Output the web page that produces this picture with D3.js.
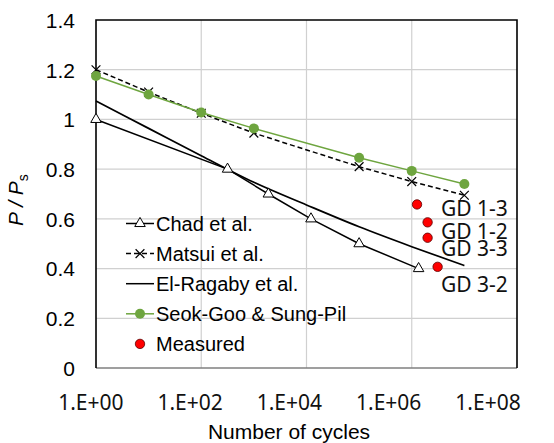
<!DOCTYPE html>
<html>
<head>
<meta charset="utf-8">
<script src="https://cdn.jsdelivr.net/npm/d3@7"></script>
<style>
  html, body { margin: 0; padding: 0; background: #fff; }
  svg { display: block; }
</style>
</head>
<body>
<svg id="chart" width="554" height="443"></svg>
<script>
// ---------------- data ----------------
const xTicks = [1, 1e2, 1e4, 1e6, 1e8];
const xTickLabels = ["1.E+00", "1.E+02", "1.E+04", "1.E+06", "1.E+08"];
const yTicks = [0, 0.2, 0.4, 0.6, 0.8, 1, 1.2, 1.4];
const yTickLabels = ["0", "0.2", "0.4", "0.6", "0.8", "1", "1.2", "1.4"];

const chadN = [1, 316, 1884, 12160, 100000, 1350000];
const chadP = [1.0, 0.8, 0.7, 0.6, 0.5, 0.4];

const matsuiN = [1, 10, 100, 1000, 1e5, 1e6, 1e7];
const matsuiP = [1.2, 1.11, 1.025, 0.945, 0.81, 0.75, 0.695];

const elRagabyN = [1, 10, 100, 1000, 1e4, 1e5, 1e6, 1e7];
const elRagabyP = [1.074, 0.964, 0.854, 0.747, 0.656, 0.568, 0.488, 0.412];

const seokN = [1, 10, 100, 1000, 1e5, 1e6, 1e7];
const seokP = [1.175, 1.10, 1.028, 0.964, 0.846, 0.793, 0.74];

const measuredN = [1.26e6, 2.0e6, 2.0e6, 3.1e6];
const measuredP = [0.658, 0.586, 0.524, 0.407];
const measuredLabels = ["GD 1-3", "GD 1-2", "GD 3-3", "GD 3-2"];

const legendNames = ["Chad et al.", "Matsui et al.", "El-Ragaby et al.", "Seok-Goo & Sung-Pil", "Measured"];

// ---------------- layout ----------------
const L = 96, R = 517, T = 20, B = 368;
const labelDy = [11.4, 16.7, 18.3, 25];
const labelX = 441;
const green = "#6ea53f";

const svg = d3.select("#chart");
const x = d3.scaleLog().domain([1, 1e8]).range([L, R]);
const y = d3.scaleLinear().domain([0, 1.4]).range([B, T]);
// tick labels in the reference sit on a slightly compressed spacing
const xLab = d3.scaleLog().domain([1, 1e8]).range([90.3, 487.5]);

// gridlines
svg.append("g").selectAll("line.h").data(yTicks.filter(v => v > 0 && v < 1.4)).join("line")
  .attr("x1", L).attr("x2", R).attr("y1", d => y(d)).attr("y2", d => y(d))
  .attr("stroke", "#d0d0d0").attr("stroke-width", 1.2);
svg.append("g").selectAll("line.v").data(xTicks.filter(v => v > 1 && v < 1e8)).join("line")
  .attr("x1", d => x(d)).attr("x2", d => x(d)).attr("y1", T).attr("y2", B)
  .attr("stroke", "#d0d0d0").attr("stroke-width", 1.2);

// border
svg.append("line").attr("x1", L).attr("x2", R).attr("y1", B).attr("y2", B)
  .attr("stroke", "#7f7f7f").attr("stroke-width", 1.6);
svg.append("path").attr("d", `M${L},${B}V${T}H${R}V${B}`)
  .attr("fill", "none").attr("stroke", "#000").attr("stroke-width", 1.6);

// y tick labels
const yAxis = d3.axisLeft(y).tickValues(yTicks).tickSize(0)
  .tickFormat((d, i) => yTickLabels[i]);
const gy = svg.append("g").attr("transform", `translate(75,0)`).call(yAxis);
gy.select(".domain").remove();
gy.selectAll("text").attr("x", 0).attr("dy", "0.35em")
  .attr("font-family", "Liberation Sans, Arial, sans-serif").attr("font-size", 21).attr("fill", "#000");

// x tick labels
const xAxis = d3.axisBottom(xLab).tickValues(xTicks).tickSize(0)
  .tickFormat((d, i) => xTickLabels[i]);
const gx = svg.append("g").attr("transform", `translate(0,410)`).call(xAxis);
gx.select(".domain").remove();
gx.selectAll("text").attr("y", 0).attr("dy", 0)
  .attr("font-family", "Noto Sans, sans-serif").attr("font-size", 21).attr("fill", "#111");

// axis titles
svg.append("text").attr("x", 289).attr("y", 439).attr("text-anchor", "middle")
  .attr("font-family", "Liberation Sans, Arial, sans-serif").attr("font-size", 21)
  .text("Number of cycles");
const yt = svg.append("text").attr("transform", "translate(23,200) rotate(-90)")
  .attr("text-anchor", "middle")
  .attr("font-family", "Liberation Sans, Arial, sans-serif").attr("font-size", 21);
yt.append("tspan").attr("font-style", "italic").text("P / P");
yt.append("tspan").attr("font-size", 14).attr("dy", 5).text("s");

// series
const line = d3.line().x(d => x(d[0])).y(d => y(d[1]));
const zip = (a, b) => a.map((v, i) => [v, b[i]]);

const elData = zip(elRagabyN, elRagabyP);
svg.append("path").datum(elData)
  .attr("d", d3.line().x(d => x(d[0])).y(d => y(d[1])).curve(d3.curveMonotoneX))
  .attr("fill", "none").attr("stroke", "#000").attr("stroke-width", 1.7);

const chadData = zip(chadN, chadP);
svg.append("path").datum(chadData).attr("d", line)
  .attr("fill", "none").attr("stroke", "#000").attr("stroke-width", 1.5);

const matsuiData = zip(matsuiN, matsuiP);
svg.append("path").datum(matsuiData).attr("d", line)
  .attr("fill", "none").attr("stroke", "#000").attr("stroke-width", 1.5)
  .attr("stroke-dasharray", "5,3");

const seokData = zip(seokN, seokP);
svg.append("path").datum(seokData).attr("d", line)
  .attr("fill", "none").attr("stroke", green).attr("stroke-width", 1.5);

const tri = d3.symbol(d3.symbolTriangle, 48);
const times = d3.symbol(d3.symbolTimes, 52);

svg.append("g").selectAll("path").data(matsuiData).join("path")
  .attr("transform", d => `translate(${x(d[0])},${y(d[1])})`)
  .attr("d", times).attr("fill", "none").attr("stroke", "#000").attr("stroke-width", 1.2);

svg.append("g").selectAll("circle").data(seokData).join("circle")
  .attr("cx", d => x(d[0])).attr("cy", d => y(d[1])).attr("r", 5).attr("fill", green);

svg.append("g").selectAll("path").data(chadData).join("path")
  .attr("transform", d => `translate(${x(d[0])},${y(d[1])})`)
  .attr("d", tri).attr("fill", "#fff").attr("stroke", "#000").attr("stroke-width", 1);

const measData = zip(measuredN, measuredP);
svg.append("g").selectAll("circle").data(measData).join("circle")
  .attr("cx", d => x(d[0])).attr("cy", d => y(d[1])).attr("r", 4.7)
  .attr("fill", "#ff0000").attr("stroke", "#5a0000").attr("stroke-width", 0.8);

svg.append("g").selectAll("text").data(measData).join("text")
  .attr("x", labelX).attr("y", (d, i) => y(d[1]) + labelDy[i])
  .attr("font-family", "Noto Sans, sans-serif").attr("font-size", 21).attr("fill", "#111")
  .text((d, i) => measuredLabels[i]);

// legend
const lg = svg.append("g");
const rowY = i => 223.5 + i * 30.1;
legendNames.forEach((name, i) => {
  const cy = rowY(i);
  if (i < 4) {
    lg.append("line").attr("x1", 126).attr("x2", 154).attr("y1", cy).attr("y2", cy)
      .attr("stroke", i === 3 ? green : "#000").attr("stroke-width", 1.5)
      .attr("stroke-dasharray", i === 1 ? "5,3" : null);
  }
  if (i === 0) lg.append("path").attr("transform", `translate(140,${cy})`).attr("d", tri)
      .attr("fill", "#fff").attr("stroke", "#000").attr("stroke-width", 1);
  if (i === 1) lg.append("path").attr("transform", `translate(140,${cy})`).attr("d", times)
      .attr("fill", "none").attr("stroke", "#000").attr("stroke-width", 1.2);
  if (i === 3) lg.append("circle").attr("cx", 140).attr("cy", cy).attr("r", 5).attr("fill", green);
  if (i === 4) lg.append("circle").attr("cx", 140).attr("cy", cy).attr("r", 4.7)
      .attr("fill", "#ff0000").attr("stroke", "#5a0000").attr("stroke-width", 0.8);
  lg.append("text").attr("x", 156).attr("y", cy + 7.2)
    .attr("font-family", "Liberation Sans, Arial, sans-serif").attr("font-size", 20).attr("fill", "#000")
    .text(name);
});
</script>
</body>
</html>
